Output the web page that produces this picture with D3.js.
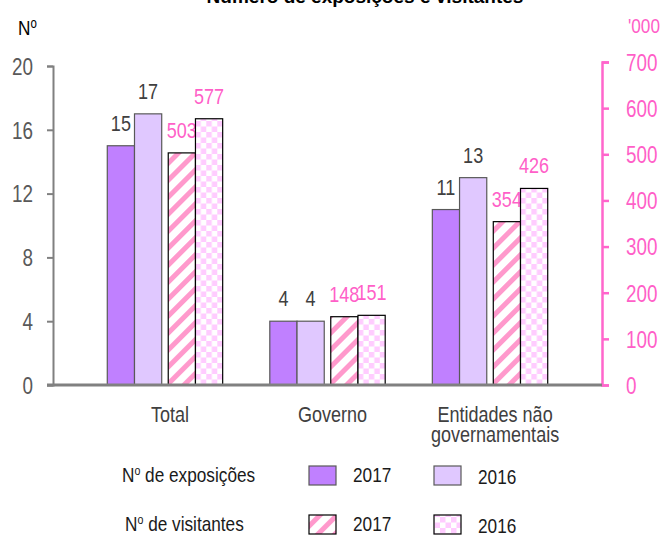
<!DOCTYPE html>
<html>
<head>
<meta charset="utf-8">
<script src="https://cdn.jsdelivr.net/npm/d3@7"></script>
<style>
  body { margin: 0; background: #fff; }
  svg { display: block; }
  text { font-family: "Liberation Sans Narrow", "Arial Narrow", "Liberation Sans", Arial, sans-serif; }
</style>
</head>
<body>
<div id="chart"></div>
<script>
// Chart data
const categories = ["Total", "Governo", "Entidades não\ngovernamentais"];
const exposicoes2017 = [15, 4, 11];
const exposicoes2016 = [17, 4, 13];
const visitantes2017 = [503, 148, 354];
const visitantes2016 = [577, 151, 426];
const leftTicks = [0, 4, 8, 12, 16, 20];
const rightTicks = [0, 100, 200, 300, 400, 500, 600, 700];

const W = 664, H = 537;
const plotLeft = 53, plotRight = 602, baseY = 385;
const K = 0.82; // horizontal squeeze to mimic a narrow font

const purple17 = "#c080ff", purple16 = "#e0c8ff";
const pink = "#ff66cc", pinkText = "#ff5fc8";

// squeeze text horizontally around its own x position
function squeeze(sel) {
  sel.attr("transform", function () {
    const x0 = +this.getAttribute("x") || 0;
    return `matrix(${K},0,0,1,${x0 * (1 - K)},0)`;
  });
}

const svg = d3.select("#chart").append("svg")
  .attr("width", W).attr("height", H);

// Patterns for visitor bars
const defs = svg.append("defs");
const hatch = defs.append("pattern")
  .attr("id", "hatch").attr("patternUnits", "userSpaceOnUse")
  .attr("width", 12).attr("height", 12)
  .attr("patternTransform", "rotate(45)");
hatch.append("rect").attr("width", 12).attr("height", 12).attr("fill", "#fff");
hatch.append("rect").attr("width", 5).attr("height", 12).attr("fill", "#ff99cc");

const checker = defs.append("pattern")
  .attr("id", "checker").attr("patternUnits", "userSpaceOnUse")
  .attr("width", 11).attr("height", 11);
checker.append("rect").attr("width", 11).attr("height", 11).attr("fill", "#fff");
checker.append("rect").attr("width", 5.5).attr("height", 5.5).attr("fill", "#ffccff");
checker.append("rect").attr("x", 5.5).attr("y", 5.5).attr("width", 5.5).attr("height", 5.5).attr("fill", "#ffccff");

// Scales
const x = d3.scaleBand().domain(categories).range([plotLeft, plotRight])
  .paddingInner(0.29).paddingOuter(0.334);
const xPair = d3.scaleBand().domain(["exp", "vis"]).range([0, x.bandwidth()]).paddingInner(0.107);
const xYear = d3.scaleBand().domain(["2017", "2016"]).range([0, xPair.bandwidth()]);
const yLeft = d3.scaleLinear().domain([0, 20]).range([baseY, 66]);
const yRight = d3.scaleLinear().domain([0, 700]).range([baseY, 62]);

// Title (partly cut off at the top, as in the reference)
svg.append("text")
  .attr("x", 365).attr("y", 3)
  .attr("text-anchor", "middle")
  .style("font-family", "'Liberation Sans', Arial, sans-serif")
  .style("font-weight", "bold").style("font-size", "19px")
  .attr("fill", "#000")
  .text("Número de exposições e visitantes");

// Left axis
const leftAxis = svg.append("g")
  .attr("transform", `translate(${plotLeft},0)`)
  .call(d3.axisLeft(yLeft).tickValues(leftTicks).tickSize(6).tickPadding(14));
leftAxis.select(".domain").attr("stroke", "#808080").attr("stroke-width", 2);
leftAxis.selectAll(".tick line").attr("stroke", "#808080").attr("stroke-width", 2);
leftAxis.selectAll(".tick text").attr("fill", "#595959")
  .style("font-size", "23px").attr("dy", "0.36em").call(squeeze);

// Right axis
const rightAxis = svg.append("g")
  .attr("transform", `translate(${plotRight},0)`)
  .call(d3.axisRight(yRight).tickValues(rightTicks).tickSize(7).tickPadding(17));
rightAxis.select(".domain").attr("stroke", pink).attr("stroke-width", 2.5);
rightAxis.selectAll(".tick line").attr("stroke", pink).attr("stroke-width", 2.5);
rightAxis.selectAll(".tick text").attr("fill", pinkText)
  .style("font-size", "23px").attr("dy", "0.36em").call(squeeze);

// Axis unit labels
const noLabel = svg.append("text").attr("x", 18).attr("y", 35)
  .attr("fill", "#000").style("font-size", "21px");
noLabel.append("tspan").text("N");
noLabel.append("tspan").attr("dy", -7).style("font-size", "14px").text("o");
noLabel.call(squeeze);

svg.append("text").attr("x", 628).attr("y", 33)
  .attr("fill", pinkText).style("font-size", "21px").text("'000").call(squeeze);

// Bars
const groups = svg.selectAll(".grp")
  .data(categories.map((c, i) => ({ c, i })))
  .enter().append("g")
  .attr("transform", d => `translate(${x(d.c)},0)`);

const series = [
  { pair: "exp", year: "2017", vals: exposicoes2017, y: yLeft, fill: purple17, stroke: "#595959", txt: "#404040" },
  { pair: "exp", year: "2016", vals: exposicoes2016, y: yLeft, fill: purple16, stroke: "#595959", txt: "#404040" },
  { pair: "vis", year: "2017", vals: visitantes2017, y: yRight, fill: "url(#hatch)", stroke: "#000", txt: pinkText },
  { pair: "vis", year: "2016", vals: visitantes2016, y: yRight, fill: "url(#checker)", stroke: "#000", txt: pinkText }
];

series.forEach(s => {
  groups.append("rect")
    .attr("x", d => xPair(s.pair) + xYear(s.year))
    .attr("y", d => s.y(s.vals[d.i]))
    .attr("width", xYear.bandwidth())
    .attr("height", d => baseY - s.y(s.vals[d.i]))
    .attr("fill", s.fill)
    .attr("stroke", s.stroke).attr("stroke-width", 1.2);

  groups.append("text")
    .attr("x", d => xPair(s.pair) + xYear(s.year) + xYear.bandwidth() / 2)
    .attr("y", d => s.y(s.vals[d.i]) - 15)
    .attr("text-anchor", "middle")
    .attr("fill", s.txt).style("font-size", "22px")
    .text(d => s.vals[d.i])
    .call(squeeze);
});

// X axis baseline
svg.append("line")
  .attr("x1", plotLeft - 6).attr("x2", plotRight)
  .attr("y1", baseY).attr("y2", baseY)
  .attr("stroke", "#808080").attr("stroke-width", 3);

// Category labels
groups.append("text")
  .attr("x", x.bandwidth() / 2 + 5)
  .attr("y", 422)
  .attr("text-anchor", "middle")
  .attr("fill", "#404040").style("font-size", "22px")
  .call(t => t.selectAll("tspan")
    .data(d => d.c.split("\n"))
    .enter().append("tspan")
    .attr("x", x.bandwidth() / 2 + 5)
    .attr("dy", (d, i) => i === 0 ? 0 : 20)
    .text(d => d))
  .call(squeeze);

// Legend
const legendRows = [
  { label: "de exposições", y: 482, items: [{ fill: purple17, stroke: "#595959", text: "2017" }, { fill: purple16, stroke: "#595959", text: "2016" }] },
  { label: "de visitantes", y: 531, items: [{ fill: "url(#hatch)", stroke: "#000", text: "2017" }, { fill: "url(#checker)", stroke: "#000", text: "2016" }] }
];
const itemX = [309, 434];

legendRows.forEach((row, r) => {
  const t = svg.append("text").attr("x", r === 0 ? 122 : 125).attr("y", row.y)
    .attr("fill", "#1a1a1a").style("font-size", "21px");
  t.append("tspan").text("N");
  t.append("tspan").attr("dy", -7).style("font-size", "13px").text("o");
  t.append("tspan").attr("dy", 7).text(" " + row.label);
  t.call(squeeze);

  row.items.forEach((it, j) => {
    svg.append("rect")
      .attr("x", itemX[j]).attr("y", row.y - 16)
      .attr("width", 27).attr("height", 19)
      .attr("fill", it.fill).attr("stroke", it.stroke).attr("stroke-width", 1.2);
    svg.append("text")
      .attr("x", itemX[j] + 44).attr("y", row.y + (j === 1 ? 2 : 0))
      .attr("fill", "#1a1a1a").style("font-size", "21px")
      .text(it.text)
      .call(squeeze);
  });
});
</script>
</body>
</html>
